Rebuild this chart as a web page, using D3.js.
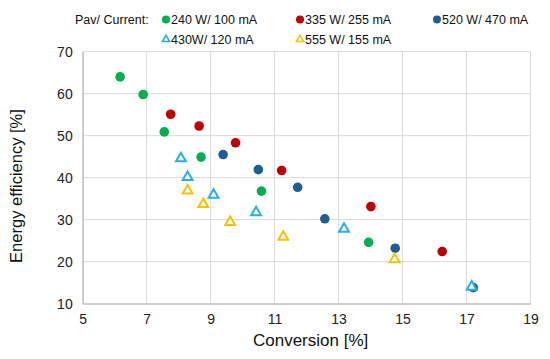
<!DOCTYPE html>
<html>
<head>
<meta charset="utf-8">
<script src="https://cdn.jsdelivr.net/npm/d3@7"></script>
<style>
  body { margin: 0; background: #fff; }
  text { font-family: "Liberation Sans", Arial, sans-serif; }
</style>
</head>
<body>
<div id="chart"></div>
<script>
// data
const seriesNames = ["240 W/ 100 mA", "335 W/ 255 mA", "520 W/ 470 mA", "430W/ 120 mA", "555 W/ 155 mA"];

const conv240 = [6.17, 6.89, 7.55, 8.70, 10.59, 13.94];
const eff240  = [64.0, 59.8, 50.9, 44.9, 36.8, 24.6];

const conv335 = [7.75, 8.64, 9.78, 11.22, 14.01, 16.24];
const eff335  = [55.1, 52.3, 48.3, 41.7, 33.1, 22.4];

const conv520 = [9.39, 10.49, 11.72, 12.57, 14.77, 17.21];
const eff520  = [45.5, 41.9, 37.7, 30.2, 23.2, 13.8];

const conv430 = [8.07, 8.28, 9.09, 10.42, 13.17, 17.16];
const eff430  = [44.6, 40.1, 35.9, 31.7, 27.8, 14.0];

const conv555 = [8.28, 8.77, 9.61, 11.27, 14.75];
const eff555  = [36.9, 33.7, 29.4, 25.9, 20.5];

const xTicks = [5, 7, 9, 11, 13, 15, 17, 19];
const yTicks = [10, 20, 30, 40, 50, 60, 70];

const series = [
  { name: seriesNames[0], x: conv240, y: eff240, shape: "circle", color: "#00b050" },
  { name: seriesNames[1], x: conv335, y: eff335, shape: "circle", color: "#c00000" },
  { name: seriesNames[2], x: conv520, y: eff520, shape: "circle", color: "#1f5e94" },
  { name: seriesNames[3], x: conv430, y: eff430, shape: "triangle", color: "#20b0f0" },
  { name: seriesNames[4], x: conv555, y: eff555, shape: "triangle", color: "#ffc000" }
];

// set dimensions and margins
const W = 550, H = 359;
const margin = { top: 51.7, right: 19.5, bottom: 55.4, left: 82.7 },
      width = W - margin.left - margin.right,
      height = H - margin.top - margin.bottom;

const svg = d3.select("#chart")
  .append("svg")
    .attr("width", W)
    .attr("height", H);

const g = svg.append("g")
  .attr("transform", `translate(${margin.left},${margin.top})`);

// scales
const x = d3.scaleLinear().domain([5, 19]).range([0, width]);
const y = d3.scaleLinear().domain([10, 70]).range([height, 0]);

// gridlines
g.append("g")
  .selectAll("line")
  .data(xTicks)
  .join("line")
    .attr("x1", d => x(d)).attr("x2", d => x(d))
    .attr("y1", 0).attr("y2", height)
    .attr("stroke", "#d9d9d9");

g.append("g")
  .selectAll("line")
  .data(yTicks)
  .join("line")
    .attr("x1", 0).attr("x2", width)
    .attr("y1", d => y(d)).attr("y2", d => y(d))
    .attr("stroke", "#d9d9d9");

// axes
const xAxis = g.append("g")
  .attr("transform", `translate(0,${height})`)
  .call(d3.axisBottom(x).tickValues(xTicks).tickSize(0).tickPadding(10));
const yAxis = g.append("g")
  .call(d3.axisLeft(y).tickValues(yTicks).tickSize(0).tickPadding(10));

[xAxis, yAxis].forEach(a => {
  a.select(".domain").attr("stroke", "#bfbfbf").attr("stroke-width", 1.3);
  a.selectAll("text")
    .attr("font-size", "14px")
    .attr("fill", "#222")
    .style("font-family", "'Liberation Sans', Arial, sans-serif");
});

// axis titles
svg.append("text")
  .attr("x", margin.left + width / 2 + 4)
  .attr("y", 346)
  .attr("text-anchor", "middle")
  .attr("font-size", "17px")
  .attr("fill", "#111")
  .text("Conversion [%]");

svg.append("text")
  .attr("transform", "translate(21.5,186) rotate(-90)")
  .attr("text-anchor", "middle")
  .attr("font-size", "16.5px")
  .attr("fill", "#111")
  .text("Energy efficiency [%]");

// markers
const tri = d3.symbol().type(d3.symbolTriangle).size(42);

series.forEach(s => {
  const pts = s.x.map((v, i) => [v, s.y[i]]);
  if (s.shape === "circle") {
    g.append("g").selectAll("circle")
      .data(pts)
      .join("circle")
        .attr("cx", d => x(d[0]))
        .attr("cy", d => y(d[1]))
        .attr("r", 4.8)
        .attr("fill", s.color);
  } else {
    g.append("g").selectAll("path")
      .data(pts)
      .join("path")
        .attr("d", tri)
        .attr("transform", d => `translate(${x(d[0])},${y(d[1])})`)
        .attr("fill", "#fff")
        .attr("stroke", s.color)
        .attr("stroke-width", 2);
  }
});

// legend
svg.append("text")
  .attr("x", 75)
  .attr("y", 23.5)
  .attr("font-size", "12.5px")
  .attr("fill", "#111")
  .text("Pav/ Current:");

const legendPos = [[166, 19.5], [300, 19.5], [437, 19.5], [166, 39.5], [300, 39.5]];
const legendTri = d3.symbol().type(d3.symbolTriangle).size(22);

series.forEach((s, i) => {
  const [lx, ly] = legendPos[i];
  if (s.shape === "circle") {
    svg.append("circle").attr("cx", lx).attr("cy", ly).attr("r", 4).attr("fill", s.color);
  } else {
    svg.append("path")
      .attr("d", legendTri)
      .attr("transform", `translate(${lx},${ly})`)
      .attr("fill", "#fff")
      .attr("stroke", s.color)
      .attr("stroke-width", 1.6);
  }
  svg.append("text")
    .attr("x", lx + 5)
    .attr("y", ly + 4)
    .attr("font-size", "12.5px")
    .attr("fill", "#111")
    .text(s.name);
});
</script>
</body>
</html>
